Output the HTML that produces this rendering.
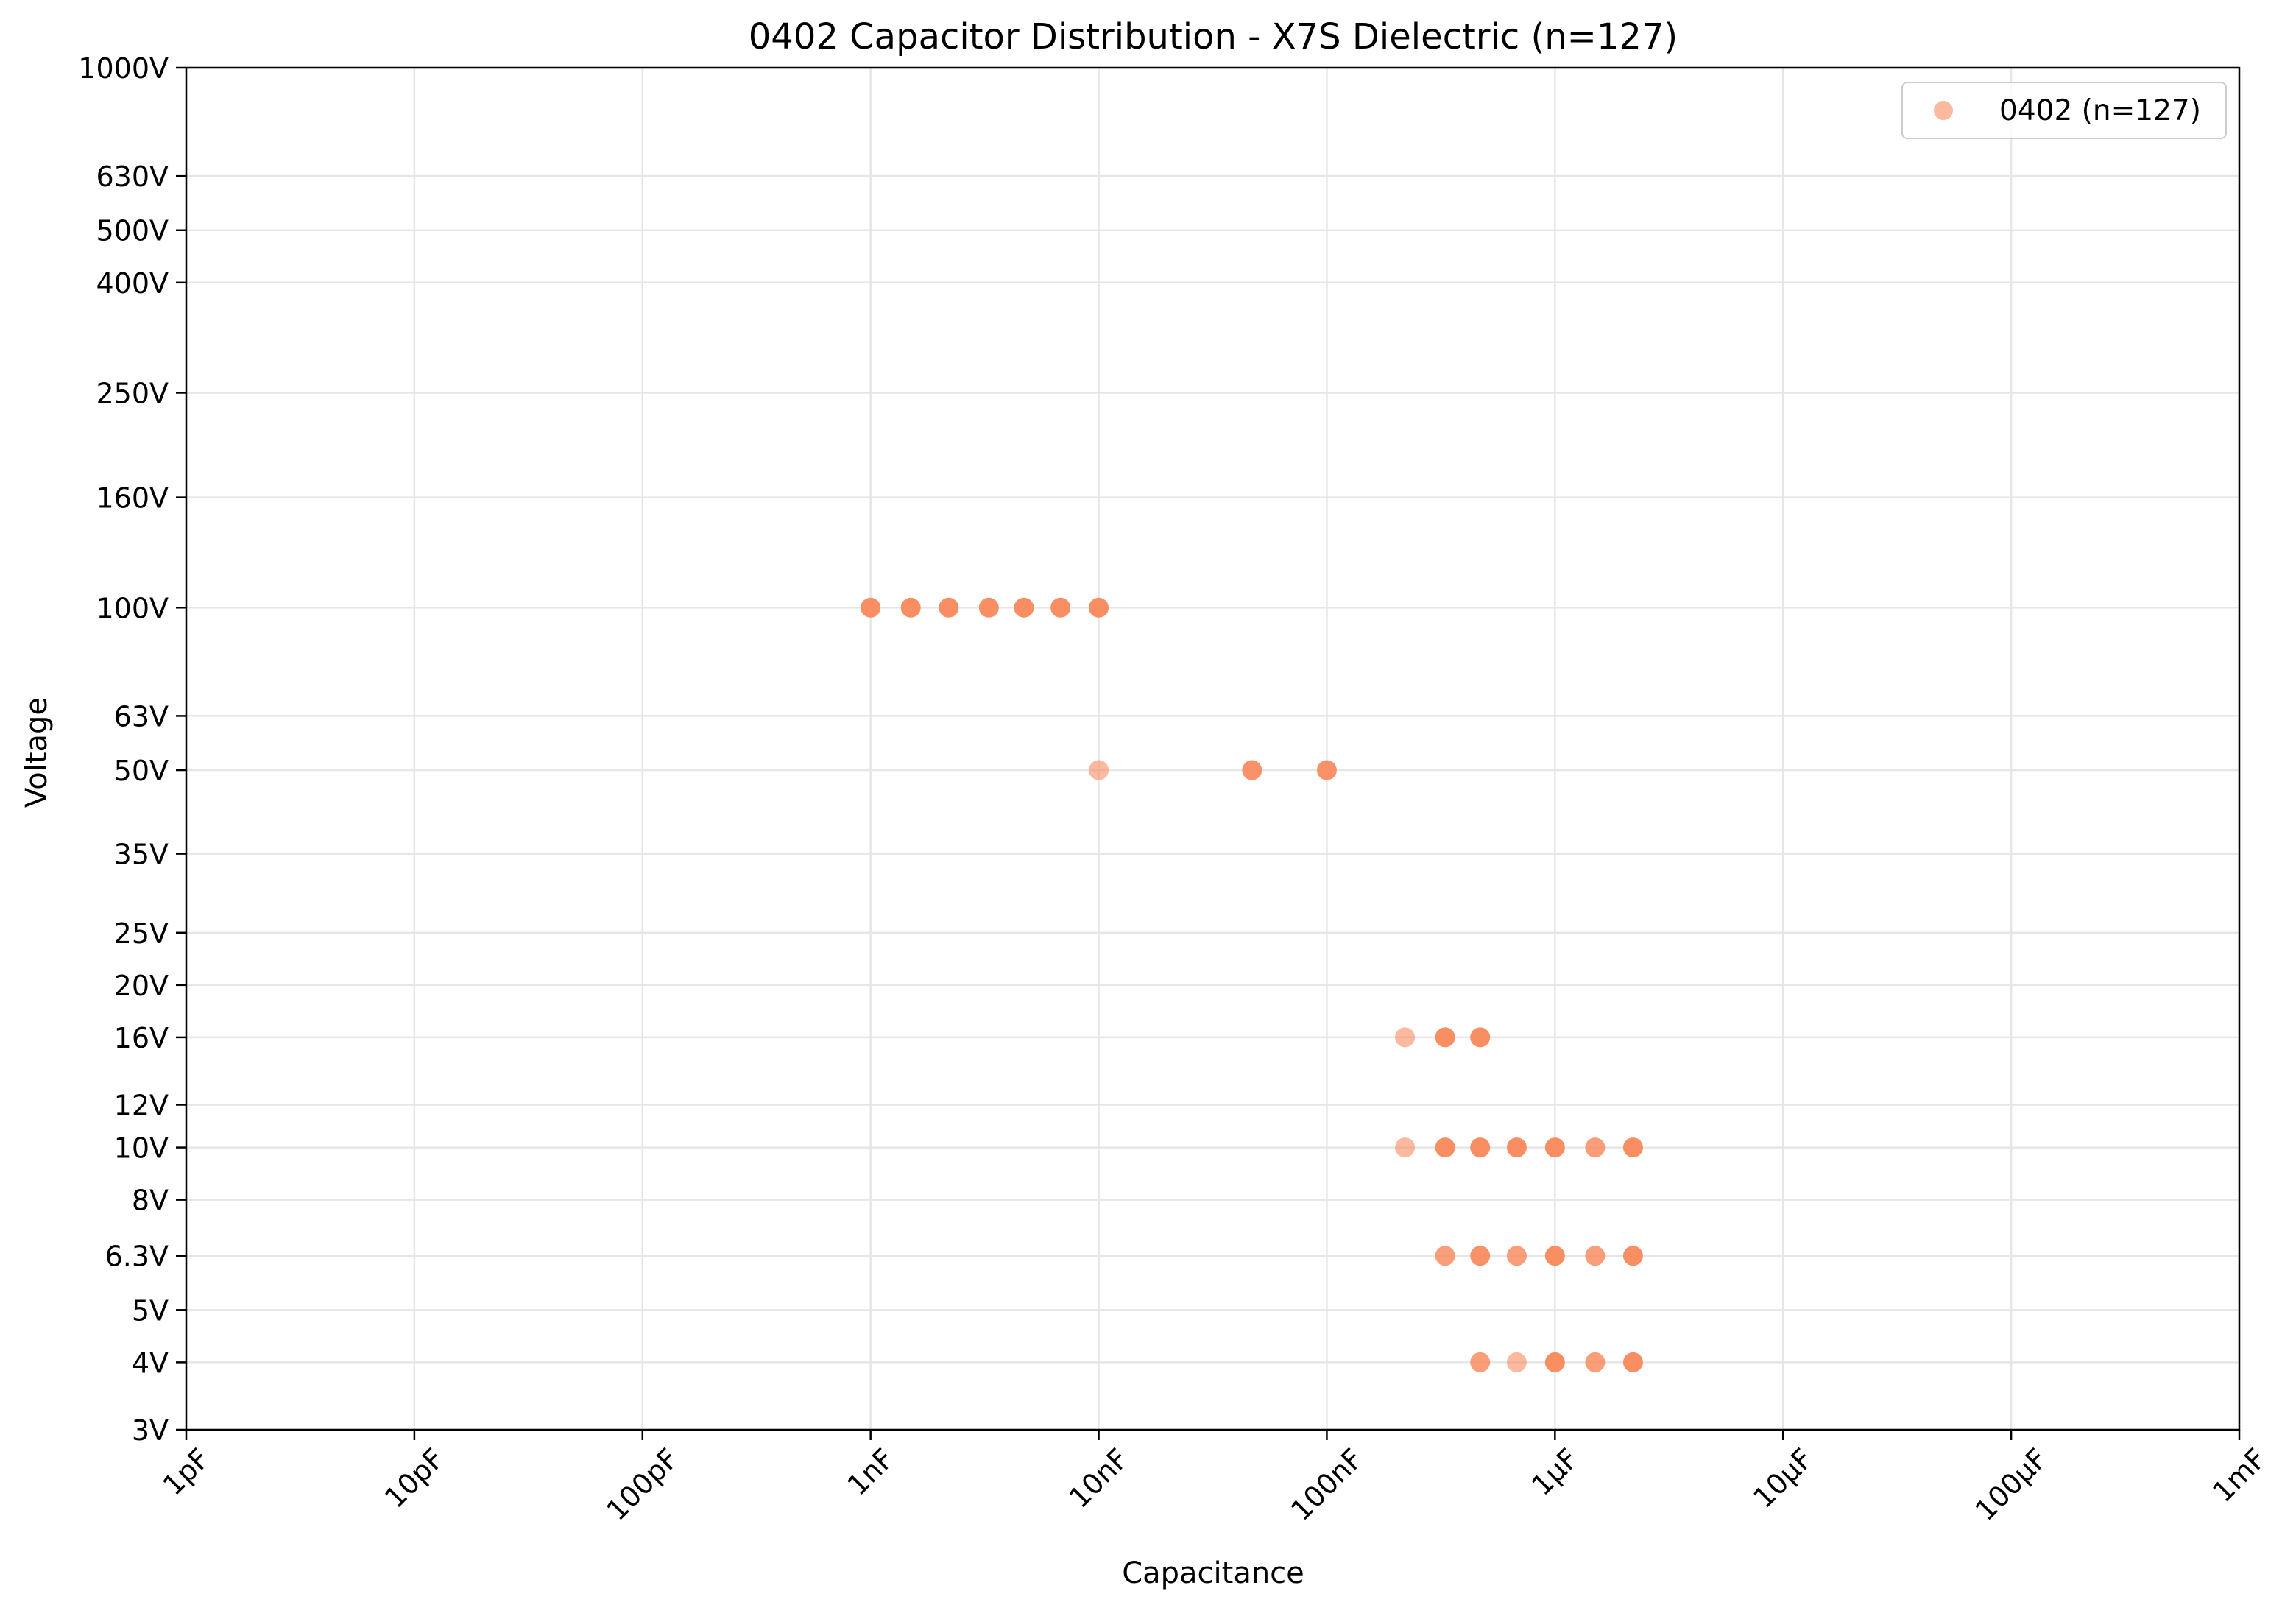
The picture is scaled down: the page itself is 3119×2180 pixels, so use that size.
<!DOCTYPE html>
<html><head><meta charset="utf-8"><style>
html,body{margin:0;padding:0;background:#fff;}
svg{display:block;font-family:"DejaVu Sans","Liberation Sans",sans-serif;}
</style></head><body>
<svg id="chart" width="3119" height="2180" viewBox="0 0 3119 2180" xmlns="http://www.w3.org/2000/svg">
<rect x="0" y="0" width="3119" height="2180" fill="#fff"/>
<text x="1648" y="66" font-size="48" text-anchor="middle" fill="#000">0402 Capacitor Distribution - X7S Dielectric (n=127)</text>
<g id="grid"></g>
<g id="points"></g>
<rect x="253" y="92" width="2789" height="1850" fill="none" stroke="#000" stroke-width="2.5"/>
<g id="axes"></g>
<text x="1648" y="2150" font-size="40" text-anchor="middle">Capacitance</text>
<text x="0" y="0" font-size="40" text-anchor="middle" transform="translate(63,1022) rotate(-90)">Voltage</text>
<g>
<rect x="2584" y="112" width="440" height="76" rx="7" fill="#fff" fill-opacity="0.8" stroke="#ccc" stroke-width="2"/>
<circle cx="2640" cy="150" r="13" fill="#f98b5f" fill-opacity="0.6"/>
<text x="2716" y="163" font-size="39">0402 (n=127)</text>
</g>
</svg>
<script>
const xTickValues=[1e-12,1e-11,1e-10,1e-9,1e-8,1e-7,1e-6,1e-5,1e-4,1e-3];
const xTickLabels=["1pF","10pF","100pF","1nF","10nF","100nF","1µF","10µF","100µF","1mF"];
const yTickValues=[3,4,5,6.3,8,10,12,16,20,25,35,50,63,100,160,250,400,500,630,1000];
const yTickLabels=["3V","4V","5V","6.3V","8V","10V","12V","16V","20V","25V","35V","50V","63V","100V","160V","250V","400V","500V","630V","1000V"];
const capValues=[1e-9,1.5e-9,2.2e-9,3.3e-9,4.7e-9,6.8e-9,1e-8,
 1e-8,4.7e-8,1e-7,
 2.2e-7,3.3e-7,4.7e-7,
 2.2e-7,3.3e-7,4.7e-7,6.8e-7,1e-6,1.5e-6,2.2e-6,
 3.3e-7,4.7e-7,6.8e-7,1e-6,1.5e-6,2.2e-6,
 4.7e-7,6.8e-7,1e-6,1.5e-6,2.2e-6];
const voltValues=[100,100,100,100,100,100,100,
 50,50,50,
 16,16,16,
 10,10,10,10,10,10,10,
 6.3,6.3,6.3,6.3,6.3,6.3,
 4,4,4,4,4];
const overlapCounts=[4,4,4,4,4,4,4,
 1,3,3,
 1,4,4,
 1,4,4,4,4,2,4,
 2,3,2,4,2,4,
 2,1,4,2,4];

const NS="http://www.w3.org/2000/svg";
const L=253,R=3042,T=92,B=1942;
const xMin=1e-12,xMax=1e-3,yMin=3,yMax=1000;
function xs(v){return L+(Math.log10(v)-Math.log10(xMin))/(Math.log10(xMax)-Math.log10(xMin))*(R-L);}
function ys(v){return B-(Math.log10(v)-Math.log10(yMin))/(Math.log10(yMax)-Math.log10(yMin))*(B-T);}
function mk(tag,attrs,parent){const e=document.createElementNS(NS,tag);for(const k in attrs)e.setAttribute(k,attrs[k]);parent.appendChild(e);return e;}
const grid=document.getElementById('grid'),axes=document.getElementById('axes'),pts=document.getElementById('points');

xTickValues.forEach((v,i)=>{
 const x=xs(v);
 const g=mk('line',{x1:x,x2:x,y1:T,y2:B,stroke:'#e6e6e6','stroke-width':2.5},grid);
 
 
 const t=mk('line',{x1:x,x2:x,y1:B,y2:B+14,stroke:'#000','stroke-width':2.5},axes);
 
 
 const tx=mk('text',{'font-size':38,'text-anchor':'middle','dominant-baseline':'central'},axes);
 tx.textContent=xTickLabels[i];
 
 
 const w=tx.getComputedTextLength?tx.getComputedTextLength():60;
 const cy=B+22+(w+30)*0.7071/2;
 tx.setAttribute('transform','translate('+x+','+cy+') rotate(-45)');
});
yTickValues.forEach((v,i)=>{
 const y=ys(v);
 const g=mk('line',{x1:L,x2:R,y1:y,y2:y,stroke:'#e6e6e6','stroke-width':2.5},grid);
 
 
 const t=mk('line',{x1:L-14,x2:L,y1:y,y2:y,stroke:'#000','stroke-width':2.5},axes);
 
 
 const tx=mk('text',{x:L-24,y:y+14,'font-size':38,'text-anchor':'end'},axes);
 tx.textContent=yTickLabels[i];
 
 
});
capValues.forEach((c,i)=>{
 const a=1-Math.pow(0.4,overlapCounts[i]);
 const p=mk('circle',{cx:xs(c),cy:ys(voltValues[i]),r:13.5,fill:'#f98b5f','fill-opacity':a.toFixed(3)},pts);
 
 
});
</script>
</body></html>
